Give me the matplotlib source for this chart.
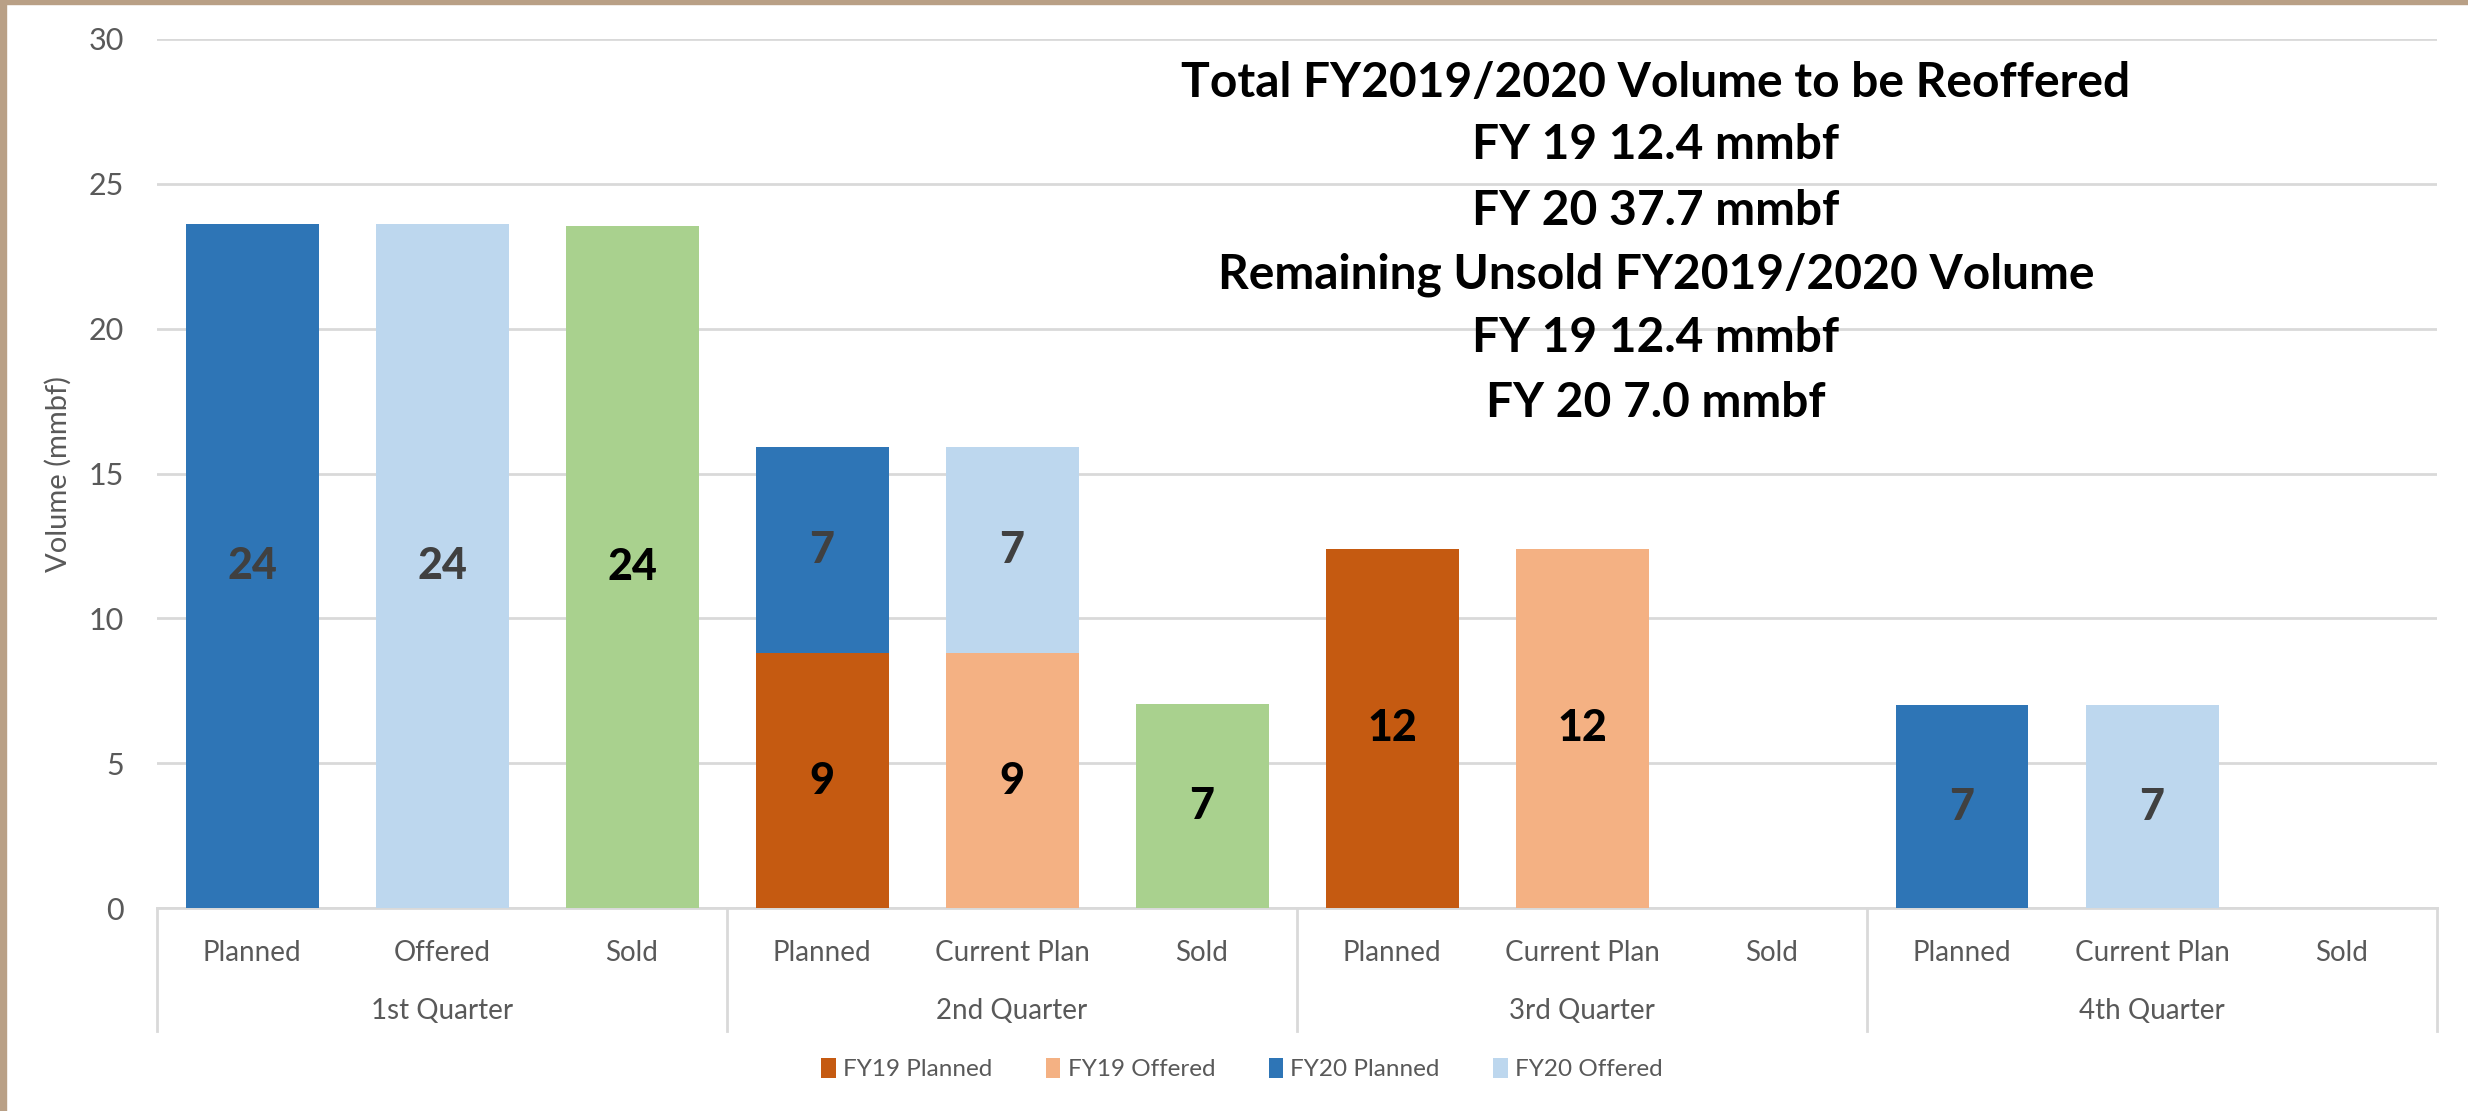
import matplotlib
matplotlib.use("Agg")
import matplotlib.pyplot as plt
import matplotlib.transforms as mtransforms
from matplotlib.patches import Patch, Rectangle
import numpy as np

plt.rcParams['font.family'] = ['Lato', 'DejaVu Sans']

# data (mmbf)
quarters = ['1st Quarter', '2nd Quarter', '3rd Quarter', '4th Quarter']
bar_labels = ['Planned', 'Offered', 'Sold',
              'Planned', 'Current Plan', 'Sold',
              'Planned', 'Current Plan', 'Sold',
              'Planned', 'Current Plan', 'Sold']
fy19_planned = [0, 0, 0, 8.8, 0, 0, 12.4, 0, 0, 0, 0, 0]
fy19_offered = [0, 0, 0, 0, 8.8, 0, 0, 12.4, 0, 0, 0, 0]
fy20_planned = [23.6, 0, 0, 7.1, 0, 0, 0, 0, 0, 7.0, 0, 0]
fy20_offered = [0, 23.6, 0, 0, 7.1, 0, 0, 0, 0, 0, 7.0, 0]
sold = [0, 0, 23.55, 0, 0, 7.05, 0, 0, 0, 0, 0, 0]

notes = ['Total FY2019/2020 Volume to be Reoffered',
         'FY 19 12.4 mmbf',
         'FY 20 37.7 mmbf',
         'Remaining Unsold FY2019/2020 Volume',
         'FY 19 12.4 mmbf',
         'FY 20 7.0 mmbf']

TXT = '#595959'
GRID = '#D9D9D9'

fig = plt.figure(figsize=(24.68, 11.11), dpi=100)
ax = fig.add_axes([157 / 2468, 1 - 908 / 1111, (2437 - 157) / 2468, (908 - 39) / 1111])

x = np.arange(len(bar_labels))
w = 0.7
# series drawn bottom-up: FY19 first, FY20 stacked on top
series = [
    ('FY19 Planned', fy19_planned, '#C55A11', 'black'),
    ('FY19 Offered', fy19_offered, '#F4B183', 'black'),
    ('FY20 Planned', fy20_planned, '#2E75B6', '#404040'),
    ('FY20 Offered', fy20_offered, '#BDD7EE', '#404040'),
    ('Sold', sold, '#A9D18E', 'black'),
]
bottom = np.zeros(len(x))
handles = []
for name, vals, col, lcol in series:
    vals = np.array(vals, dtype=float)
    bars = ax.bar(x, vals, w, bottom=bottom, color=col, zorder=3)
    for b, v, b0 in zip(bars, vals, bottom):
        if v > 0:
            ax.text(b.get_x() + b.get_width() / 2, b0 + v / 2, f'{v:.0f}',
                    ha='center', va='center', fontsize=31, fontweight='black',
                    color=lcol, zorder=4)
    bottom = bottom + vals
    if name != 'Sold':
        handles.append(Patch(facecolor=col, label=name))

ax.set_xlim(-0.5, len(x) - 0.5)
ax.set_ylim(0, 30)
ax.set_yticks(range(0, 31, 5))
ax.yaxis.grid(True, color=GRID, linewidth=2, zorder=0)
ax.tick_params(axis='y', length=0, labelsize=22, labelcolor=TXT, pad=24)
ax.set_ylabel('Volume (mmbf)', fontsize=21, color=TXT)
ax.yaxis.set_label_coords((72 - 157) / 2280, 0.5)

ax.set_xticks(x)
ax.set_xticklabels(bar_labels)
ax.tick_params(axis='x', length=0, labelsize=20, labelcolor=TXT, pad=23)

for s in ['top', 'right', 'left']:
    ax.spines[s].set_visible(False)
ax.spines['bottom'].set_color(GRID)
ax.spines['bottom'].set_linewidth(2)

# two-level category axis: group separators and group names
trans = mtransforms.blended_transform_factory(ax.transData, ax.transAxes)
sep_bottom = -(1031 - 908) / (908 - 39)
for k in range(len(quarters) + 1):
    xs = -0.5 + 3 * k
    ax.plot([xs, xs], [0, sep_bottom], transform=trans, color=GRID,
            linewidth=2, clip_on=False)
for k, q in enumerate(quarters):
    ax.text(3 * k + 1, -(1011 - 908) / (908 - 39), q, transform=trans,
            ha='center', va='center', fontsize=20, color=TXT)

# annotation block
line_y = [83, 145, 211, 275, 338, 403]
for t, yy in zip(notes, line_y):
    fig.text(1656 / 2468, 1 - yy / 1111, t, ha='center', va='center',
             fontsize=34.5, fontweight='bold', color='black')

fig.legend(handles=handles, loc='center', bbox_to_anchor=(1242 / 2468, 1 - 1069 / 1111),
           ncol=4, frameon=False, fontsize=17.5, labelcolor=TXT,
           handlelength=0.6, handleheight=0.9, handletextpad=0.3, columnspacing=2.2)

# tan frame on left and top edges
fig.patches.append(Rectangle((0, 0), 6 / 2468, 1, transform=fig.transFigure,
                             color='#B9A086', zorder=10))
fig.patches.append(Rectangle((0, 1 - 4 / 1111), 1, 4 / 1111, transform=fig.transFigure,
                             color='#B9A086', zorder=10))

fig.savefig('out.png', dpi=100)
